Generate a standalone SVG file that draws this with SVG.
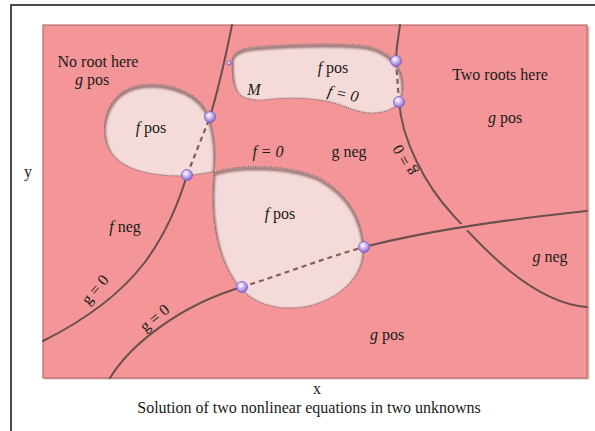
<svg xmlns="http://www.w3.org/2000/svg" width="595" height="431" viewBox="0 0 595 431">
<defs>
<style>
.t{font-family:"Liberation Serif","Times New Roman",serif;font-size:16px;fill:#1a1a1a}
.i{font-style:italic}
.curve{fill:none;stroke:#6b4e4e;stroke-width:2;stroke-linecap:round}
.dash{fill:none;stroke:#8b5a5a;stroke-width:2.2;stroke-dasharray:5 4}
.bub{fill:#f4dad9}
.edge{fill:none;stroke:#7a5a5a;stroke-width:1;stroke-dasharray:1 1.3}
.shade{fill:none;stroke:#9c7474;stroke-width:3.5;filter:url(#blur)}
.dot{fill:url(#sph);stroke:#7a5cc0;stroke-width:0.8}
</style>
<filter id="blur" x="-10%" y="-10%" width="120%" height="120%"><feGaussianBlur stdDeviation="0.9"/></filter>
<radialGradient id="sph" cx="40%" cy="35%" r="65%">
<stop offset="0" stop-color="#ffffff"/>
<stop offset="0.45" stop-color="#cdb9f2"/>
<stop offset="1" stop-color="#8a68d0"/>
</radialGradient>
<path id="b1" d="M214,172 C217,150 214,125 205,108 C192,88 160,80 135,86 C110,93 100,120 106,142 C112,165 140,177 187,176 L214,172 Z"/>
<path id="b2" d="M232,63 C231,55 236,49 253,47 C290,44 330,43 360,45 C380,47 393,55 400,70 C405,82 404,96 398,104 C392,111 380,114 368,113 C355,112 345,106 330,102 C310,98 290,97 265,100 C250,101 240,98 236,90 C232,82 232,72 232,63 Z"/>
<path id="b3" d="M214,172 C240,164 290,164 320,178 C345,192 362,215 364,247 C366,275 340,300 305,307 C270,312 245,300 232,277 C215,250 210,210 214,172 Z"/>
<clipPath id="c1"><use href="#b1"/></clipPath>
<clipPath id="c2"><use href="#b2"/></clipPath>
<clipPath id="c3"><use href="#b3"/></clipPath>
</defs>
<rect x="0" y="0" width="595" height="431" fill="#ffffff"/>
<path d="M11,431 L11,5 L595,5" fill="none" stroke="#111" stroke-width="1.5"/>
<g id="panel">
<rect x="44.5" y="26.5" width="545" height="353" fill="#dcb8b8"/>
<rect x="43" y="25" width="544" height="353" fill="#f49698" stroke="#b56d6d" stroke-width="1.2"/>
</g>
<g id="bubble-left">
<use href="#b1" class="bub"/>
<g clip-path="url(#c1)"><use href="#b1" class="shade" transform="translate(0,2)"/></g>
<use href="#b1" class="edge"/>
</g>
<g id="bubble-top">
<use href="#b2" class="bub"/>
<g clip-path="url(#c2)"><use href="#b2" class="shade" transform="translate(0,2)"/></g>
<use href="#b2" class="edge"/>
</g>
<g id="bubble-center">
<use href="#b3" class="bub"/>
<g clip-path="url(#c3)"><use href="#b3" class="shade" transform="translate(0,2)"/></g>
<use href="#b3" class="edge"/>
</g>
<g id="connectors">
<path class="curve" d="M43,341 C85,320 120,295 145,262 C165,235 178,205 187,175"/>
<path class="dash" d="M187,175 L210,117"/>
<path class="curve" d="M210,117 C218,90 226,55 232,25"/>
<path class="curve" d="M400,25 C398,40 396,50 396,61"/>
<path class="dash" d="M396,61 L399,102"/>
<path class="curve" d="M399,102 C402,140 425,185 453,215 C480,245 532,303 587,307"/>
<path d="M451,229.5 L477,225" stroke="#f49698" stroke-width="7" fill="none"/>
<path class="curve" d="M110,378 C130,345 180,305 242,287"/>
<path class="dash" d="M242,287 C280,275 325,258 364,247"/>
<path class="curve" d="M364,247 C430,230 520,218 587,211"/>
</g>
<g id="roots">
<circle class="dot" cx="210" cy="117" r="5.5"/>
<circle class="dot" cx="187" cy="175" r="5.5"/>
<circle class="dot" cx="396" cy="61" r="5.5"/>
<circle class="dot" cx="399" cy="102" r="5.5"/>
<circle class="dot" cx="242" cy="287" r="5.5"/>
<circle class="dot" cx="364" cy="247" r="5.5"/>
<circle class="dot" cx="229" cy="63" r="2.2"/>
</g>
<g id="labels">
<text class="t" x="98" y="67" text-anchor="middle">No root here</text>
<text class="t" x="92" y="85" text-anchor="middle"><tspan class="i">g</tspan> pos</text>
<text class="t" x="151" y="133" text-anchor="middle"><tspan class="i">f</tspan> pos</text>
<text class="t" x="333" y="73" text-anchor="middle"><tspan class="i">f</tspan> pos</text>
<text class="t i" x="254" y="95" text-anchor="middle">M</text>
<text class="t i" x="342" y="99" text-anchor="middle" transform="rotate(12 342 99)">f = 0</text>
<text class="t i" x="268" y="157" text-anchor="middle">f = 0</text>
<text class="t" x="349" y="157" text-anchor="middle">g neg</text>
<text class="t" x="409" y="158" text-anchor="middle" transform="rotate(242 409 158)">g = 0</text>
<text class="t" x="500" y="80" text-anchor="middle">Two roots here</text>
<text class="t" x="505" y="123" text-anchor="middle"><tspan class="i">g</tspan> pos</text>
<text class="t" x="280" y="219" text-anchor="middle"><tspan class="i">f</tspan> pos</text>
<text class="t" x="125" y="232" text-anchor="middle"><tspan class="i">f</tspan> neg</text>
<text class="t" x="99" y="293" text-anchor="middle" transform="rotate(-50 99 293)">g = 0</text>
<text class="t" x="158" y="322" text-anchor="middle" transform="rotate(-40 158 322)">g = 0</text>
<text class="t" x="550" y="262" text-anchor="middle"><tspan class="i">g</tspan> neg</text>
<text class="t" x="387" y="340" text-anchor="middle"><tspan class="i">g</tspan> pos</text>
<text class="t" x="317" y="394" text-anchor="middle">x</text>
<text class="t" x="28" y="177" text-anchor="middle">y</text>
<text class="t" x="309" y="413" text-anchor="middle">Solution of two nonlinear equations in two unknowns</text>
</g>
</svg>
